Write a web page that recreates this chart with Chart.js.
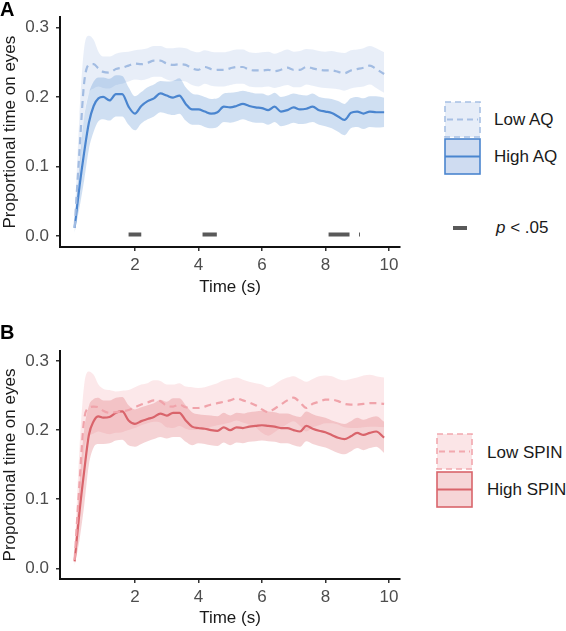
<!DOCTYPE html>
<html><head><meta charset="utf-8">
<script src="https://cdn.jsdelivr.net/npm/chart.js@4.4.1/dist/chart.umd.min.js"></script>
<style>
body{margin:0;background:#fff;width:566px;height:631px;position:relative;overflow:hidden;font-family:"Liberation Sans",Arial,sans-serif;}
canvas{position:absolute;left:0;}
#cA{top:0}
#cB{top:320px}
.lab{position:absolute;font-weight:bold;font-size:20px;color:#000;line-height:20px}
.lg{position:absolute;font-size:17px;color:#1a1a1a;white-space:nowrap;line-height:20px}
svg{position:absolute}
</style></head><body>
<canvas id="cA" width="410" height="300"></canvas>
<canvas id="cB" width="410" height="311"></canvas>
<div class="lab" style="left:0;top:-1px">A</div>
<div class="lab" style="left:0;top:322px">B</div>

<svg style="left:444px;top:101px" width="39" height="75">
  <rect x="1" y="1" width="35" height="35" fill="#e6edf8" stroke="#a7c0e4" stroke-width="1.6" stroke-dasharray="6,4"/>
  <line x1="3" y1="18.5" x2="34" y2="18.5" stroke="#a7c0e4" stroke-width="2" stroke-dasharray="6,4"/>
  <rect x="1" y="38" width="35" height="35" fill="#cfdcf1" stroke="#4a85cf" stroke-width="1.6"/>
  <line x1="1" y1="55.5" x2="36" y2="55.5" stroke="#4a85cf" stroke-width="2"/>
</svg>
<div class="lg" style="left:494px;top:110px">Low AQ</div>
<div class="lg" style="left:494px;top:147px">High AQ</div>
<div style="position:absolute;left:453px;top:226px;width:14px;height:4px;background:#595959"></div>
<div class="lg" style="left:496px;top:218px"><i>p</i> &lt; .05</div>

<svg style="left:436px;top:433px" width="39" height="76">
  <rect x="1" y="1" width="35" height="35" fill="#fbe5e7" stroke="#f2a8ae" stroke-width="1.6" stroke-dasharray="6,4"/>
  <line x1="3" y1="18.5" x2="34" y2="18.5" stroke="#f2a8ae" stroke-width="2" stroke-dasharray="6,4"/>
  <rect x="1" y="39" width="35" height="35" fill="#f6d5d7" stroke="#d9646b" stroke-width="1.6"/>
  <line x1="1" y1="56.5" x2="36" y2="56.5" stroke="#d9646b" stroke-width="2"/>
</svg>
<div class="lg" style="left:487px;top:443px">Low SPIN</div>
<div class="lg" style="left:487px;top:480px">High SPIN</div>

<script>
// ---- DATA ----
const T = [0.1,0.25,0.4,0.55,0.7,0.85,1.0,1.2,1.4,1.6,1.8,2.0,2.2,2.4,2.6,2.8,3.0,3.2,3.4,3.6,3.8,4.0,4.2,4.4,4.6,4.8,5.0,5.2,5.4,5.6,5.8,6.0,6.2,6.4,6.6,6.8,7.0,7.2,7.4,7.6,7.8,8.0,8.2,8.4,8.6,8.8,9.0,9.2,9.4,9.6,9.85];

const highAQ   = [0.012,0.07,0.12,0.163,0.187,0.198,0.200,0.195,0.204,0.204,0.186,0.176,0.187,0.194,0.198,0.205,0.202,0.199,0.202,0.190,0.182,0.182,0.179,0.176,0.178,0.186,0.185,0.187,0.190,0.187,0.185,0.184,0.181,0.186,0.179,0.181,0.185,0.182,0.183,0.186,0.181,0.179,0.177,0.172,0.167,0.177,0.179,0.176,0.179,0.178,0.178];
const highAQHi = [0.02,0.10,0.17,0.205,0.222,0.228,0.228,0.226,0.231,0.230,0.214,0.201,0.207,0.214,0.218,0.223,0.222,0.223,0.227,0.214,0.205,0.203,0.200,0.197,0.198,0.205,0.206,0.207,0.209,0.207,0.205,0.205,0.202,0.206,0.200,0.202,0.205,0.203,0.202,0.205,0.200,0.198,0.197,0.194,0.190,0.198,0.200,0.198,0.201,0.201,0.199];
const highAQLo = [0.005,0.04,0.08,0.125,0.15,0.165,0.168,0.166,0.172,0.172,0.160,0.152,0.162,0.168,0.172,0.178,0.176,0.174,0.176,0.166,0.160,0.160,0.157,0.155,0.157,0.164,0.163,0.165,0.168,0.165,0.163,0.163,0.160,0.164,0.158,0.160,0.163,0.161,0.162,0.164,0.160,0.158,0.155,0.150,0.145,0.155,0.157,0.154,0.157,0.156,0.157];

const lowAQ    = [0.012,0.12,0.22,0.246,0.247,0.241,0.236,0.235,0.240,0.242,0.245,0.248,0.247,0.249,0.252,0.252,0.248,0.246,0.247,0.246,0.241,0.239,0.243,0.240,0.239,0.239,0.241,0.243,0.243,0.239,0.238,0.238,0.239,0.237,0.239,0.242,0.239,0.239,0.243,0.241,0.239,0.238,0.238,0.236,0.234,0.238,0.240,0.242,0.245,0.240,0.233];
const lowAQHi  = [0.02,0.17,0.27,0.288,0.282,0.265,0.258,0.258,0.262,0.264,0.265,0.267,0.268,0.270,0.273,0.273,0.270,0.270,0.271,0.270,0.266,0.264,0.267,0.265,0.264,0.264,0.266,0.268,0.268,0.264,0.263,0.264,0.265,0.262,0.265,0.268,0.265,0.266,0.269,0.268,0.266,0.265,0.266,0.264,0.263,0.267,0.268,0.270,0.273,0.270,0.264];
const lowAQLo  = [0.005,0.08,0.17,0.205,0.212,0.215,0.213,0.212,0.217,0.219,0.222,0.225,0.224,0.226,0.229,0.229,0.225,0.223,0.223,0.222,0.217,0.215,0.219,0.216,0.215,0.215,0.217,0.219,0.219,0.215,0.214,0.214,0.215,0.213,0.215,0.217,0.214,0.214,0.218,0.216,0.214,0.213,0.212,0.211,0.209,0.212,0.214,0.215,0.218,0.213,0.206];

const highSPIN   = [0.010,0.08,0.14,0.193,0.213,0.220,0.218,0.219,0.225,0.227,0.214,0.209,0.213,0.216,0.219,0.224,0.221,0.225,0.225,0.214,0.205,0.203,0.202,0.200,0.199,0.204,0.200,0.204,0.203,0.205,0.206,0.207,0.206,0.205,0.203,0.203,0.200,0.198,0.206,0.202,0.199,0.197,0.193,0.189,0.187,0.191,0.196,0.193,0.196,0.198,0.189];
const highSPINHi = [0.02,0.12,0.20,0.235,0.245,0.247,0.243,0.243,0.247,0.248,0.236,0.230,0.233,0.236,0.239,0.244,0.241,0.246,0.246,0.236,0.226,0.223,0.222,0.221,0.220,0.225,0.221,0.225,0.224,0.226,0.227,0.228,0.227,0.226,0.224,0.224,0.221,0.219,0.227,0.223,0.220,0.218,0.214,0.211,0.209,0.213,0.218,0.215,0.218,0.220,0.212];
const highSPINLo = [0.004,0.04,0.09,0.15,0.175,0.180,0.180,0.181,0.185,0.186,0.178,0.176,0.180,0.184,0.187,0.190,0.188,0.190,0.190,0.183,0.178,0.181,0.180,0.178,0.177,0.182,0.178,0.182,0.181,0.183,0.184,0.185,0.184,0.183,0.181,0.181,0.178,0.176,0.184,0.180,0.177,0.175,0.171,0.167,0.165,0.169,0.174,0.171,0.174,0.176,0.167];

const lowSPIN    = [0.012,0.12,0.215,0.232,0.234,0.233,0.228,0.225,0.226,0.227,0.229,0.233,0.237,0.240,0.243,0.242,0.235,0.234,0.237,0.233,0.232,0.232,0.234,0.237,0.239,0.241,0.243,0.246,0.243,0.240,0.236,0.230,0.226,0.231,0.237,0.243,0.247,0.240,0.232,0.238,0.241,0.244,0.244,0.242,0.238,0.237,0.237,0.238,0.239,0.239,0.238];
const lowSPINHi  = [0.02,0.17,0.265,0.285,0.280,0.266,0.260,0.258,0.256,0.257,0.258,0.262,0.266,0.268,0.272,0.271,0.266,0.266,0.268,0.263,0.262,0.261,0.262,0.265,0.268,0.272,0.274,0.276,0.273,0.270,0.268,0.266,0.262,0.266,0.272,0.276,0.278,0.274,0.270,0.274,0.278,0.279,0.278,0.274,0.272,0.274,0.276,0.279,0.280,0.278,0.276];
const lowSPINLo  = [0.005,0.08,0.17,0.19,0.195,0.198,0.196,0.194,0.196,0.197,0.200,0.203,0.207,0.210,0.212,0.211,0.204,0.203,0.206,0.202,0.200,0.200,0.202,0.205,0.207,0.209,0.211,0.214,0.211,0.208,0.204,0.196,0.192,0.197,0.203,0.209,0.213,0.206,0.198,0.204,0.207,0.210,0.210,0.208,0.204,0.203,0.203,0.204,0.205,0.205,0.204];

// significant clusters (panel A)
const sigStart = [1.8, 4.13, 8.1, 9.06];
const sigEnd   = [2.2, 4.58, 8.76, 9.09];
const sigY = 0.0025;

const xTicks = [2,4,6,8,10];
const yTicks = [0,0.1,0.2,0.3];

// ---- CHART ----
const F = '"Liberation Sans", Arial, sans-serif';
const pts = a => T.map((t,i)=>({x:t,y:a[i]}));

function band(hi, lo, color, ord){
  return [
    {data:pts(hi), borderWidth:0, pointRadius:0, fill:'+1', backgroundColor:color, cubicInterpolationMode:'monotone', order:ord},
    {data:pts(lo), borderWidth:0, pointRadius:0, fill:false, cubicInterpolationMode:'monotone', order:ord}
  ];
}
function line(a, color, dashed){
  return {data:pts(a), borderColor:color, borderWidth:2.2, pointRadius:0, fill:false, cubicInterpolationMode:'monotone',
          borderDash: dashed?[7,5]:[], order:0};
}
function scales(xH){
  return {
    x:{type:'linear', min:-0.36, max:10.35,
       afterBuildTicks:s=>{s.ticks = xTicks.map(v=>({value:v}));},
       afterFit:s=>{s.height = xH;},
       grid:{drawOnChartArea:false, drawTicks:true, tickLength:4, color:'#333', lineWidth:1.5},
       border:{display:true, color:'#111', width:2},
       ticks:{color:'#4d4d4d', font:{family:F,size:17}, padding:4, maxRotation:0, autoSkip:false},
       title:{display:true, text:'Time (s)', color:'#1a1a1a', font:{family:F,size:17,lineHeight:1.2}, padding:{top:0,bottom:2}}},
    y:{type:'linear', min:-0.0155, max:0.3145,
       afterBuildTicks:s=>{s.ticks = yTicks.map(v=>({value:v}));},
       afterFit:s=>{s.width = 60;},
       grid:{drawOnChartArea:false, drawTicks:true, tickLength:4, color:'#333', lineWidth:1.5},
       border:{display:true, color:'#111', width:2},
       ticks:{color:'#4d4d4d', font:{family:F,size:17}, padding:7, callback:v=>Number(v).toFixed(1)},
       title:{display:true, text:'Proportional time on eyes', color:'#1a1a1a', font:{family:F,size:17,lineHeight:1.2}, padding:{top:0,bottom:0}}}
  };
}
const common = {responsive:false, animation:false, devicePixelRatio:1,
  plugins:{legend:{display:false}, tooltip:{enabled:false}}};

const sigSets = sigStart.map((s,i)=>({
  data:[{x:s,y:sigY},{x:sigEnd[i],y:sigY}], borderColor:'#595959', borderWidth:4,
  borderCapStyle:'butt', pointRadius:0, fill:false, order:0}));

new Chart(document.getElementById('cA'), {
  type:'line',
  data:{datasets:[
    ...band(lowAQHi, lowAQLo, 'rgba(125,160,215,0.18)', 2),
    ...band(highAQHi, highAQLo, 'rgba(77,135,207,0.27)', 1),
    line(lowAQ, '#a2bce2', true),
    line(highAQ, '#4a85cf', false),
    ...sigSets
  ]},
  options:{...common, layout:{padding:{top:17,left:0,right:10,bottom:0}}, scales:scales(53)}
});

new Chart(document.getElementById('cB'), {
  type:'line',
  data:{datasets:[
    ...band(lowSPINHi, lowSPINLo, 'rgba(240,140,150,0.2)', 2),
    ...band(highSPINHi, highSPINLo, 'rgba(222,110,115,0.3)', 1),
    line(lowSPIN, '#f0a3aa', true),
    line(highSPIN, '#d9646b', false)
  ]},
  options:{...common, layout:{padding:{top:31,left:0,right:10,bottom:0}}, scales:scales(52)}
});
</script>
</body></html>
